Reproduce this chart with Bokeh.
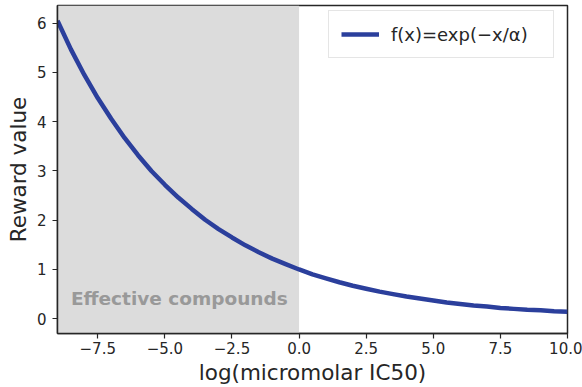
from bokeh.plotting import figure
from bokeh.models import (BoxAnnotation, Legend, LegendItem, FixedTicker, Range1d,
                          ColumnDataSource)
from bokeh.core.properties import value
from bokeh.embed import file_html
from bokeh.resources import INLINE

# ---- data ----
x_vals = [-9.0, -8.5, -8.0, -7.5, -7.0, -6.5, -6.0, -5.5, -5.0, -4.5, -4.0, -3.5,
          -3.0, -2.5, -2.0, -1.5, -1.0, -0.5, 0.0, 0.5, 1.0, 1.5, 2.0, 2.5, 3.0,
          3.5, 4.0, 4.5, 5.0, 5.5, 6.0, 6.5, 7.0, 7.5, 8.0, 8.5, 9.0, 9.5, 10.0]
reward = [6.05, 5.47, 4.95, 4.48, 4.06, 3.67, 3.32, 3.00, 2.72, 2.46, 2.23, 2.01,
          1.82, 1.65, 1.49, 1.35, 1.22, 1.11, 1.00, 0.90, 0.82, 0.74, 0.67, 0.61,
          0.55, 0.50, 0.45, 0.41, 0.37, 0.33, 0.30, 0.27, 0.25, 0.22, 0.20, 0.18,
          0.17, 0.15, 0.14]
x_ticks = [-7.5, -5.0, -2.5, 0.0, 2.5, 5.0, 7.5, 10.0]
x_tick_labels = ["\u22127.5", "\u22125.0", "\u22122.5", "0.0", "2.5", "5.0", "7.5", "10.0"]
y_ticks = [0, 1, 2, 3, 4, 5, 6]
shade_end = 0.0
shade_label = "Effective compounds"
legend_label = "f(x)=exp(\u2212x/\u03b1)"
x_label = "log(micromolar IC50)"
y_label = "Reward value"

FONT = "DejaVu Sans"
DARK = "#262626"
BLUE = "#2b3f9c"

p = figure(width=582, height=387, output_backend="svg", toolbar_location=None,
           x_range=Range1d(-9, 10), y_range=Range1d(-0.3, 6.36),
           min_border_left=57, min_border_right=15, min_border_top=5,
           min_border_bottom=50)
p.xgrid.visible = False
p.ygrid.visible = False
p.background_fill_color = "white"
p.border_fill_color = "white"
p.outline_line_color = DARK
p.outline_line_width = 1.5

shade = BoxAnnotation(right=shade_end, fill_color="#dcdcdc", fill_alpha=1.0,
                      line_color=None, level="underlay")
p.add_layout(shade)

src = ColumnDataSource(dict(x=x_vals, y=reward))
r = p.line("x", "y", source=src, line_color=BLUE, line_width=4.5)

p.text(x=[-8.5], y=[0.42], text=[shade_label], text_font=value(FONT),
       text_font_size="18.5px", text_font_style="bold", text_color="#999999",
       text_baseline="middle", text_align="left")

for ax in (p.xaxis[0], p.yaxis[0]):
    ax.axis_line_color = DARK
    ax.axis_line_width = 1.5
    ax.major_tick_line_color = DARK
    ax.major_tick_line_width = 1.2
    ax.major_tick_out = 5
    ax.major_tick_in = 0
    ax.minor_tick_line_color = None
    ax.major_label_text_font = FONT
    ax.major_label_text_font_size = "15px"
    ax.major_label_text_color = DARK
    ax.axis_label_text_font = FONT
    ax.axis_label_text_font_size = "21.5px"
    ax.axis_label_text_font_style = "normal"
    ax.axis_label_text_color = DARK

p.xaxis[0].ticker = FixedTicker(ticks=x_ticks)
p.xaxis[0].major_label_overrides = {t: l for t, l in zip(x_ticks, x_tick_labels)}
p.xaxis[0].axis_label = x_label
p.xaxis[0].axis_label_standoff = 3
p.xaxis[0].major_label_standoff = 3
p.yaxis[0].ticker = FixedTicker(ticks=y_ticks)
p.yaxis[0].axis_label = y_label
p.yaxis[0].axis_label_standoff = 3
p.yaxis[0].major_label_standoff = 6

legend = Legend(items=[LegendItem(label=legend_label, renderers=[r])],
                location=(271, 275), orientation="vertical",
                label_text_font=FONT, label_text_font_size="18px",
                label_text_color=DARK, glyph_width=38, glyph_height=22,
                label_height=22, label_width=150, label_standoff=12, padding=12,
                margin=0, border_line_color="#cccccc", border_line_width=1,
                background_fill_color="white", background_fill_alpha=0.9)
p.add_layout(legend, "center")

open("out.html", "w").write(file_html(p, INLINE))
